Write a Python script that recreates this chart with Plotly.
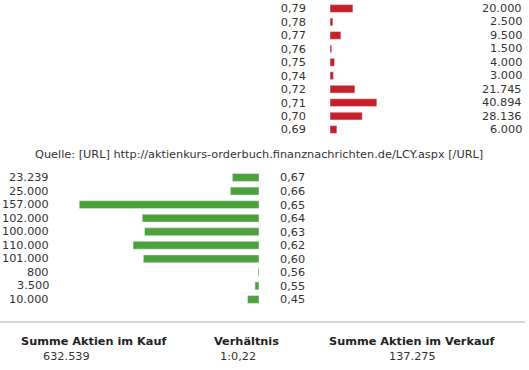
import plotly.graph_objects as go

W, H = 529, 370

# Sell side (Verkauf)
sell_prices = ["0,79", "0,78", "0,77", "0,76", "0,75", "0,74", "0,72", "0,71", "0,70", "0,69"]
sell_qty = [20000, 2500, 9500, 1500, 4000, 3000, 21745, 40894, 28136, 6000]
sell_labels = ["20.000", "2.500", "9.500", "1.500", "4.000", "3.000", "21.745", "40.894", "28.136", "6.000"]

# Buy side (Kauf)
buy_prices = ["0,67", "0,66", "0,65", "0,64", "0,63", "0,62", "0,60", "0,56", "0,55", "0,45"]
buy_qty = [23239, 25000, 157000, 102000, 100000, 110000, 101000, 800, 3500, 10000]
buy_labels = ["23.239", "25.000", "157.000", "102.000", "100.000", "110.000", "101.000", "800", "3.500", "10.000"]

source_text = "Quelle: [URL] http://aktienkurs-orderbuch.finanznachrichten.de/LCY.aspx [/URL]"
summary_titles = ["Summe Aktien im Kauf", "Verhältnis", "Summe Aktien im Verkauf"]
summary_values = ["632.539", "1:0,22", "137.275"]

RED = "#c8202a"
GREEN = "#4ca23a"
TXT = "#333333"
FONT = "DejaVu Sans"
FS = 11.3

def px(x):
    return x / W

def py(y):
    return 1 - y / H

PX_PER_UNIT = 1.145 / 1000.0

fig = go.Figure()
fig.add_trace(go.Bar(x=sell_qty, y=sell_prices, orientation="h", marker_color=RED,
                     xaxis="x", yaxis="y", hoverinfo="skip"))
fig.add_trace(go.Bar(x=buy_qty, y=buy_prices, orientation="h", marker_color=GREEN,
                     xaxis="x2", yaxis="y2", hoverinfo="skip"))

tickfont = dict(family=FONT, size=FS, color=TXT)

fig.update_layout(
    xaxis=dict(domain=[px(330), 1], range=[0, (W - 330) / PX_PER_UNIT], visible=False,
               fixedrange=True, automargin=False),
    yaxis=dict(domain=[py(138), 1], anchor="x", type="category", categoryarray=sell_prices,
               autorange="reversed", dtick=1, showgrid=False, showline=False, zeroline=False,
               ticks="", tickfont=tickfont, ticklabelstandoff=23, automargin=False),
    xaxis2=dict(domain=[0, px(259)], range=[259 / PX_PER_UNIT, 0], visible=False, fixedrange=True,
                anchor="y2", automargin=False),
    yaxis2=dict(domain=[py(308), py(169)], anchor="x2", side="right", type="category",
                categoryarray=buy_prices, autorange="reversed", dtick=1, showgrid=False,
                showline=False, zeroline=False, ticks="", tickfont=tickfont,
                ticklabelstandoff=20, automargin=False),
)

annotations = []
# quantity labels, positioned vertically by the category axes
for p, lab in zip(sell_prices, sell_labels):
    annotations.append(dict(text=lab, x=px(524), y=p, xref="paper", yref="y", xanchor="right",
                            yanchor="middle", showarrow=False, font=tickfont))
for p, lab in zip(buy_prices, buy_labels):
    annotations.append(dict(text=lab, x=px(51), y=p, xref="paper", yref="y2", xanchor="right",
                            yanchor="middle", showarrow=False, font=tickfont))

annotations.append(dict(text=source_text, x=px(33), y=py(155), xref="paper", yref="paper",
                        xanchor="left", yanchor="middle", showarrow=False,
                        font=dict(family=FONT, size=FS, color=TXT)))
title_x = [94, 246, 412]
value_x = [66, 238, 412]
for t, v, tx, vx in zip(summary_titles, summary_values, title_x, value_x):
    annotations.append(dict(text="<b>" + t + "</b>", x=px(tx), y=py(341), xref="paper", yref="paper",
                            xanchor="center", yanchor="middle", showarrow=False,
                            font=dict(family=FONT, size=FS, color="#222222")))
    annotations.append(dict(text=v, x=px(vx), y=py(356), xref="paper", yref="paper",
                            xanchor="center", yanchor="middle", showarrow=False,
                            font=dict(family=FONT, size=FS, color=TXT)))

fig.update_layout(
    width=W, height=H, margin=dict(l=0, r=0, t=0, b=0, pad=0, autoexpand=False),
    paper_bgcolor="white", plot_bgcolor="white",
    showlegend=False, bargap=0.42,
    annotations=annotations,
    shapes=[dict(type="line", xref="paper", yref="paper", x0=0, x1=px(525), y0=py(322), y1=py(322),
                 line=dict(color="#c8c8c8", width=1.5))],
)

fig.write_html("out.html", config={"displayModeBar": False},
               post_script="document.body.style.margin='0';document.body.style.overflow='hidden';")
